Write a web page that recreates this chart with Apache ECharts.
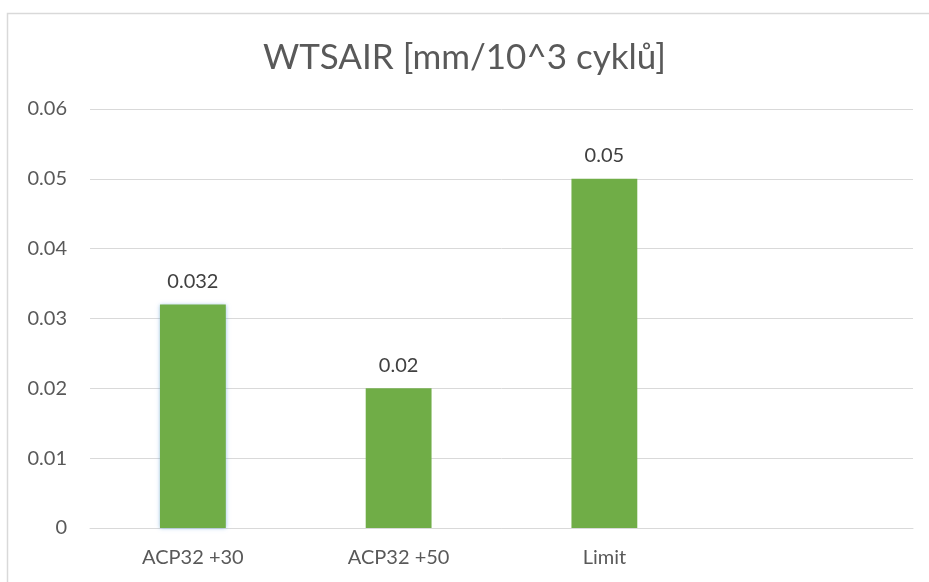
<!DOCTYPE html>
<html><head><meta charset="utf-8">
<script src="https://cdn.jsdelivr.net/npm/echarts@6/dist/echarts.min.js"></script>
<style>html,body{margin:0;padding:0;background:#fff}#c{width:929px;height:582px}</style>
</head><body><div id="c"></div>
<script>
const titleText = 'WTSAIR [mm/10^3 cyklů]';
const categories = ['ACP32 +30', 'ACP32 +50', 'Limit', ''];
const values = [0.032, 0.02, 0.05, null];
const labels = ['0.032', '0.02', '0.05', ''];
const yTicks = [0, 0.01, 0.02, 0.03, 0.04, 0.05, 0.06];

const chart = echarts.init(document.getElementById('c'), null, {renderer: 'canvas'});
const font = 'Lato, "Open Sans", sans-serif';
const data = values.map((v, i) => i === 0 ? {value: v, itemStyle: {shadowColor: 'rgba(91,155,213,0.6)', shadowBlur: 4}} : v);
chart.setOption({
  animation: false,
  textStyle: {fontFamily: font},
  graphic: [{type: 'rect', left: 5, top: 11, shape: {width: 940, height: 600},
    style: {fill: 'none', stroke: '#d9d9d9', lineWidth: 1.5}, silent: true}],
  title: {text: titleText, left: 'center', top: 35,
    textStyle: {fontFamily: font, fontWeight: 'normal', fontSize: 35, color: '#595959'}},
  grid: {left: 90, right: 16, top: 109, bottom: 54, containLabel: false},
  xAxis: {type: 'category', data: categories,
    axisLine: {lineStyle: {color: '#d9d9d9', width: 1}},
    axisTick: {show: false},
    axisLabel: {color: '#595959', fontSize: 20, margin: 20, fontFamily: font}},
  yAxis: {type: 'value', min: yTicks[0], max: yTicks[yTicks.length-1], interval: 0.01,
    axisLine: {show: false}, axisTick: {show: false},
    splitLine: {lineStyle: {color: '#d9d9d9', width: 1}},
    axisLabel: {color: '#595959', fontSize: 20, margin: 23, fontFamily: font,
      formatter: v => String(parseFloat(v.toFixed(2)))}},
  series: [{type: 'bar', data: data, barWidth: '32%',
    itemStyle: {color: '#70ad47'},
    label: {show: true, position: 'top', distance: 13, color: '#404040', fontSize: 20, fontFamily: font,
      formatter: p => labels[p.dataIndex]}}]
});
</script></body></html>
